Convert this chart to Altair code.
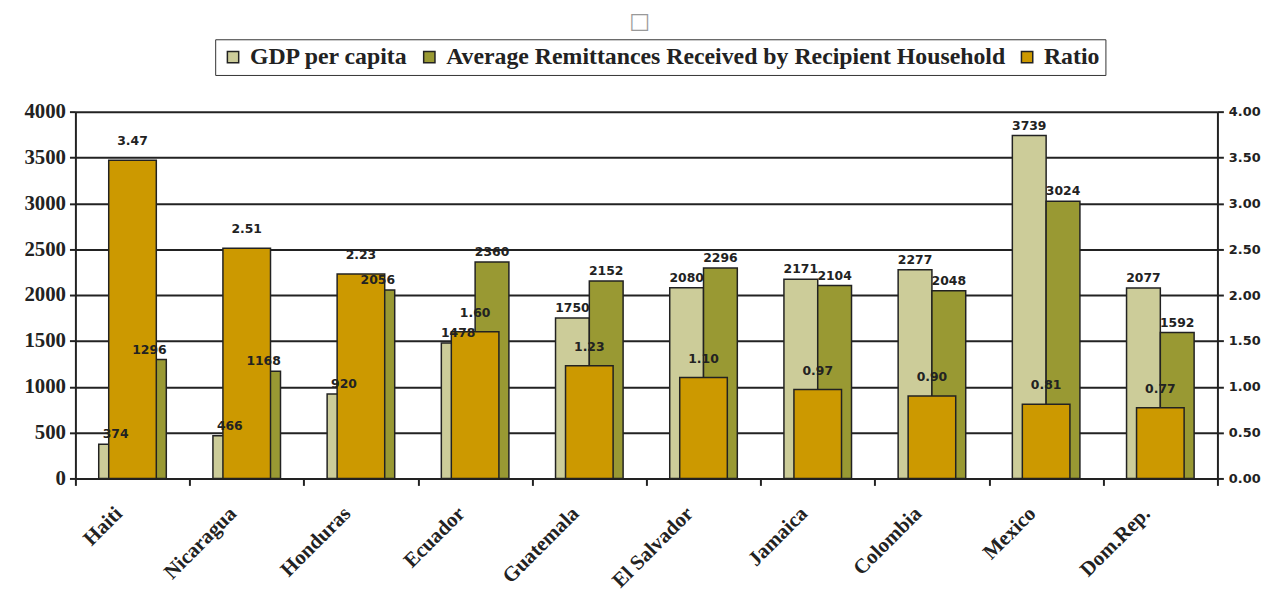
import altair as alt
import pandas as pd

countries = ["Haiti", "Nicaragua", "Honduras", "Ecuador", "Guatemala",
             "El Salvador", "Jamaica", "Colombia", "Mexico", "Dom.Rep."]
gdp = [374, 466, 920, 1478, 1750, 2080, 2171, 2277, 3739, 2077]
remit = [1296, 1168, 2056, 2360, 2152, 2296, 2104, 2048, 3024, 1592]
ratio = [3.47, 2.51, 2.23, 1.60, 1.23, 1.10, 0.97, 0.90, 0.81, 0.77]

s_gdp = "GDP per capita"
s_rem = "Average Remittances Received by Recipient Household"
s_rat = "Ratio"
series = [s_gdp, s_rem, s_rat]
colors = ["#CCCC99", "#999933", "#CC9900"]

df1 = pd.DataFrame({
    "country": countries * 2,
    "series": [s_gdp] * len(countries) + [s_rem] * len(countries),
    "value": gdp + remit,
})
df2 = pd.DataFrame({"country": countries, "series": [s_rat] * len(countries), "ratio": ratio})

x_enc = alt.X("country:N", sort=countries, title=None,
              scale=alt.Scale(paddingInner=0, paddingOuter=0),
              axis=alt.Axis(labelAngle=-45, labelAlign="right", labelBaseline="middle",
                            labelFont="Liberation Serif", labelFontSize=21, labelFontWeight="bold",
                            labelColor="#222", labelPadding=25, labelOffset=-14,
                            tickBand="extent", tickSize=7, tickColor="#222", tickWidth=2,
                            domainColor="#222", domainWidth=2, grid=False))

color_enc = alt.Color("series:N", scale=alt.Scale(domain=series, range=colors),
                      legend=alt.Legend(title=None, orient="none", legendX=141, legendY=-73,
                                        direction="horizontal", strokeColor="#333",
                                        fillColor="white", padding=6,
                                        symbolType="square", symbolSize=130,
                                        symbolStrokeColor="#222", symbolStrokeWidth=1.5,
                                        labelFont="Liberation Serif", labelFontSize=24,
                                        labelFontWeight="bold", labelColor="#222",
                                        labelLimit=1000, columnPadding=9, labelOffset=5))

xoff = alt.XOffset("series:N", sort=[s_gdp, s_rem],
                   scale=alt.Scale(domain=[s_gdp, s_rem], paddingOuter=0.69, paddingInner=0))

y1 = alt.Y("value:Q", title=None,
           scale=alt.Scale(domain=[0, 4000], nice=False),
           axis=alt.Axis(values=list(range(0, 4001, 500)), format="d",
                         labelFont="Liberation Serif",
                         labelFontSize=21, labelFontWeight="bold", labelColor="#222",
                         labelPadding=4, tickSize=6, tickColor="#222", tickWidth=2,
                         domainColor="#222", domainWidth=2,
                         grid=True, gridColor="#222", gridWidth=2))
y1n = alt.Y("value:Q", scale=alt.Scale(domain=[0, 4000], nice=False), axis=None)

y2 = alt.Y("ratio:Q", title=None,
           scale=alt.Scale(domain=[0, 4], nice=False),
           axis=alt.Axis(orient="right", values=[0, 0.5, 1, 1.5, 2, 2.5, 3, 3.5, 4],
                         format=".2f", labelFont="DejaVu Sans", labelFontSize=13,
                         labelFontWeight="bold", labelColor="#222", labelPadding=5,
                         tickSize=6, tickColor="#222", tickWidth=2,
                         domainColor="#222", domainWidth=2, grid=False))
y2n = alt.Y("ratio:Q", scale=alt.Scale(domain=[0, 4], nice=False), axis=None)

bars1 = alt.Chart(df1).mark_bar(stroke="#222", strokeWidth=1.5).encode(
    x=x_enc, xOffset=xoff, y=y1, color=color_enc)
bars2 = alt.Chart(df2).mark_bar(size=48, stroke="#222", strokeWidth=1.5).encode(
    x=x_enc, y=y2, color=color_enc)
text1 = alt.Chart(df1).mark_text(baseline="bottom", dy=-3, font="DejaVu Sans",
                                 fontSize=12.5, fontWeight="bold", color="#222").encode(
    x=x_enc, xOffset=xoff, y=y1n, text=alt.Text("value:Q", format="d"))
text2 = alt.Chart(df2).mark_text(baseline="bottom", dy=-12, font="DejaVu Sans",
                                 fontSize=12.5, fontWeight="bold", color="#222").encode(
    x=x_enc, y=y2n, text=alt.Text("ratio:Q", format=".2f"))

chart = alt.layer(bars1, bars2, text1, text2).resolve_scale(y="independent").properties(
    width=1152, height=370,
    autosize=alt.AutoSizeParams(type="none"),
    padding={"left": 68, "top": 102, "right": 50, "bottom": 112},
    title=alt.TitleParams("□", font="DejaVu Sans", fontSize=22, fontWeight="normal",
                          color="#999", anchor="middle", offset=6, dx=-7),
).configure_view(strokeWidth=0)

chart.save("out.html", embed_options={"renderer": "svg", "actions": False})
